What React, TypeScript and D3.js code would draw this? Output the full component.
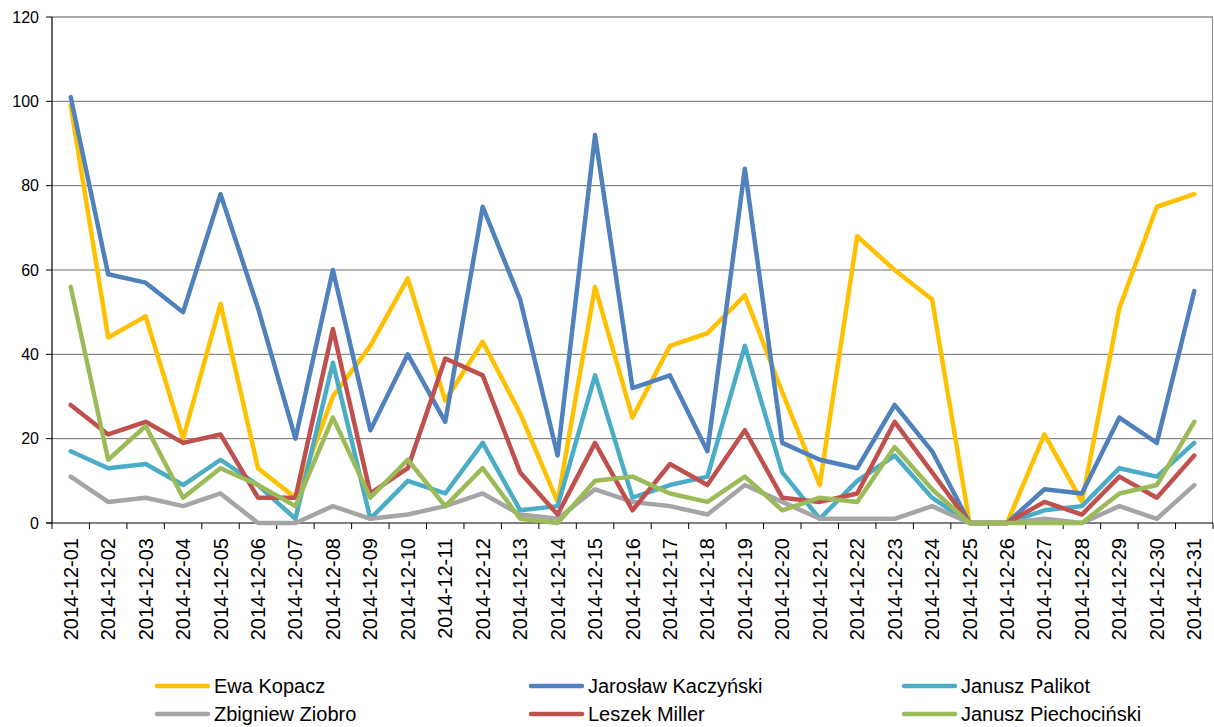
import React from "react";
import * as d3 from "d3";

const dates = Array.from({ length: 31 }, (_, i) => `2014-12-${String(i + 1).padStart(2, "0")}`);

const ewaKopacz = [99, 44, 49, 20, 52, 13, 6, 30, 42, 58, 29, 43, 26, 5, 56, 25, 42, 45, 54, 31, 9, 68, 60, 53, 0, 0, 21, 5, 51, 75, 78];
const jaroslawKaczynski = [101, 59, 57, 50, 78, 51, 20, 60, 22, 40, 24, 75, 53, 16, 92, 32, 35, 17, 84, 19, 15, 13, 28, 17, 0, 0, 8, 7, 25, 19, 55];
const januszPalikot = [17, 13, 14, 9, 15, 9, 1, 38, 1, 10, 7, 19, 3, 4, 35, 6, 9, 11, 42, 12, 1, 10, 16, 6, 0, 0, 3, 4, 13, 11, 19];
const zbigniewZiobro = [11, 5, 6, 4, 7, 0, 0, 4, 1, 2, 4, 7, 2, 1, 8, 5, 4, 2, 9, 5, 1, 1, 1, 4, 0, 0, 1, 0, 4, 1, 9];
const leszekMiller = [28, 21, 24, 19, 21, 6, 6, 46, 7, 13, 39, 35, 12, 2, 19, 3, 14, 9, 22, 6, 5, 7, 24, 12, 0, 0, 5, 2, 11, 6, 16];
const januszPiechocinski = [56, 15, 23, 6, 13, 9, 4, 25, 6, 15, 4, 13, 1, 0, 10, 11, 7, 5, 11, 3, 6, 5, 18, 8, 0, 0, 0, 0, 7, 9, 24];

const seriesNames = ["Ewa Kopacz", "Jarosław Kaczyński", "Janusz Palikot", "Zbigniew Ziobro", "Leszek Miller", "Janusz Piechociński"];
const seriesValues = [ewaKopacz, jaroslawKaczynski, januszPalikot, zbigniewZiobro, leszekMiller, januszPiechocinski];
const seriesColors = ["#FFC000", "#4F81BD", "#4BACC6", "#A5A5A5", "#C0504D", "#9BBB59"];
const yTicks = [0, 20, 40, 60, 80, 100, 120];

const W = 1214;
const H = 727;
const plotLeft = 52;
const plotRight = 1213;
const plotTop = 17;
const plotBottom = 523;
const font = "'Liberation Sans', Arial, sans-serif";

export default function App() {
  const x = d3.scaleBand<string>().domain(dates).range([plotLeft, plotRight]).paddingInner(0).paddingOuter(0);
  const y = d3.scaleLinear().domain([0, 120]).range([plotBottom, plotTop]);
  const cx = (d: string) => (x(d) as number) + x.bandwidth() / 2;

  const line = d3
    .line<number>()
    .x((_, i) => cx(dates[i]))
    .y((v) => y(v));

  const boundaries = dates.map((d) => x(d) as number).concat([plotRight]);

  const legendCols = [155, 529, 902];
  const legendRows = [686, 714];

  return (
    <svg
      width={W}
      height={H}
      style={{ position: "absolute", left: 0, top: 0, background: "#fff" }}
      fontFamily={font}
    >
      <rect x={0} y={0} width={W} height={H} fill="#fff" />
      {/* gridlines */}
      {yTicks.filter((t) => t > 0).map((t) => (
        <line key={t} x1={plotLeft} x2={plotRight} y1={y(t)} y2={y(t)} stroke={t === 120 ? "#8c8c8c" : "#6e6e6e"} strokeWidth={t === 120 ? 1.5 : 1} />
      ))}
      {/* right border */}
      <line x1={plotRight - 0.5} x2={plotRight - 0.5} y1={plotTop} y2={plotBottom} stroke="#8c8c8c" strokeWidth={1} />
      {/* y axis */}
      <line x1={plotLeft} x2={plotLeft} y1={plotTop} y2={plotBottom} stroke="#000" strokeWidth={1.2} />
      {yTicks.map((t) => (
        <g key={t}>
          <line x1={plotLeft - 6} x2={plotLeft} y1={y(t)} y2={y(t)} stroke="#000" strokeWidth={1} />
          <text x={39} y={y(t)} textAnchor="end" dominantBaseline="central" fontSize={16} fill="#000">
            {t}
          </text>
        </g>
      ))}
      {/* x axis */}
      <line x1={plotLeft - 6} x2={plotRight} y1={plotBottom} y2={plotBottom} stroke="#000" strokeWidth={1.2} />
      {boundaries.map((b, i) => (
        <line key={i} x1={b} x2={b} y1={plotBottom} y2={plotBottom + 6} stroke="#000" strokeWidth={1} />
      ))}
      {dates.map((d) => (
        <text
          key={d}
          transform={`translate(${cx(d)},${538}) rotate(-90)`}
          textAnchor="end"
          dominantBaseline="central"
          fontSize={20}
          fill="#000"
        >
          {d}
        </text>
      ))}
      {/* series */}
      {seriesValues.map((vals, si) => (
        <path
          key={si}
          d={line(vals) as string}
          fill="none"
          stroke={seriesColors[si]}
          strokeWidth={4.5}
          strokeLinejoin="round"
          strokeLinecap="round"
        />
      ))}
      {/* legend */}
      {seriesNames.map((name, si) => {
        const col = si % 3;
        const row = Math.floor(si / 3);
        const lx = legendCols[col];
        const ly = legendRows[row];
        return (
          <g key={name}>
            <line x1={lx + 2} x2={lx + 53} y1={ly} y2={ly} stroke={seriesColors[si]} strokeWidth={4.5} strokeLinecap="round" />
            <text x={lx + 59} y={ly} dominantBaseline="central" fontSize={20} fill="#000">
              {name}
            </text>
          </g>
        );
      })}
    </svg>
  );
}
